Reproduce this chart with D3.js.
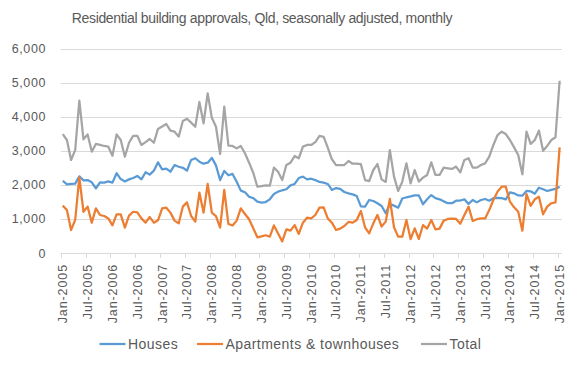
<!doctype html>
<html lang=en>
<head>
<meta charset=utf-8>
<title>Residential building approvals</title>
<script src="https://d3js.org/d3.v7.min.js"></script>
<style>
  body { margin: 0; background: #fff; }
  text { font-family: "Liberation Sans", Arial, sans-serif; fill: #595959; }
</style>
</head>
<body>
<div id="container"></div>
<script>
// monthly, Jan-2005 .. Jan-2015
var startYear = 2005, startMonth = 0;
var houses = [2120,2015,2025,2035,2250,2130,2140,2075,1900,2075,2065,2100,
  2065,2340,2170,2100,2160,2200,2260,2160,2370,2300,2415,2660,
  2455,2475,2385,2580,2530,2500,2415,2730,2780,2680,2620,2650,
  2790,2570,2140,2405,2280,2320,2090,1830,1780,1650,1610,1505,
  1480,1495,1575,1730,1800,1840,1870,1985,2025,2200,2240,2160,
  2180,2140,2085,2065,2025,1850,1905,1880,1790,1750,1720,1670,
  1370,1360,1555,1525,1460,1380,1165,1440,1390,1330,1600,1635,
  1660,1690,1690,1430,1575,1700,1610,1575,1515,1460,1460,1535,
  1540,1575,1440,1555,1485,1555,1585,1535,1610,1620,1610,1575,
  1780,1750,1690,1680,1820,1810,1740,1915,1870,1820,1850,1880,
  1945];
var apartments = [1390,1260,675,970,2220,1210,1360,890,1310,1115,1085,1015,
  810,1135,1135,745,1095,1210,1190,1015,890,1055,890,960,
  1310,1330,1185,950,870,1360,1485,1085,920,1770,1185,2025,
  1185,1085,745,1850,850,810,950,1310,1145,990,725,460,
  490,520,480,810,575,340,695,655,820,560,890,1035,
  1015,1115,1330,1340,1015,890,675,715,790,910,890,970,
  1235,755,575,870,1115,775,920,1585,755,480,480,970,
  410,725,410,820,715,970,695,715,950,1000,1010,1000,
  860,1115,1360,940,990,1015,1015,1260,1555,1800,1945,1945,
  1505,1340,1210,655,1730,1380,1575,1650,1135,1360,1460,1485,
  3100];
var total = [3490,3315,2730,3020,4470,3335,3480,2975,3200,3170,3140,3120,
  2855,3480,3315,2825,3235,3435,3440,3170,3255,3345,3235,3640,
  3710,3785,3590,3560,3415,3875,3940,3825,3705,4430,3805,4685,
  3970,3705,2905,4295,3150,3140,3070,3140,2925,2650,2355,1945,
  1965,1985,1975,2505,2385,2140,2580,2650,2845,2780,3120,3170,
  3170,3255,3435,3405,3090,2750,2580,2580,2580,2700,2620,2620,
  2605,2140,2110,2435,2610,2160,2085,3020,2240,1820,2095,2630,
  2045,2435,2095,2210,2290,2660,2290,2290,2505,2485,2465,2535,
  2365,2730,2780,2505,2505,2580,2630,2825,3170,3460,3560,3490,
  3315,3100,2875,2310,3560,3200,3315,3590,3000,3140,3315,3395,
  5055];
var yTicks = [0,1000,2000,3000,4000,5000,6000];
var monthNames = ["Jan","Feb","Mar","Apr","May","Jun","Jul","Aug","Sep","Oct","Nov","Dec"];

var series = [
  {name: "Houses", values: houses, color: "#5B9BD5"},
  {name: "Apartments & townhouses", values: apartments, color: "#ED7D31"},
  {name: "Total", values: total, color: "#A5A5A5"}
];

var w = 576, h = 366;
var svg = d3.select("#container").append("svg")
  .attr("width", w).attr("height", h);

var n = houses.length;
var x = d3.scaleLinear().domain([0, n]).range([60.7, 561.7]);
var y = d3.scaleLinear().domain([0, 6000]).range([253, 48.5]);

// gridlines
svg.append("g").selectAll("line")
  .data(yTicks)
  .enter().append("line")
  .attr("x1", x(0)).attr("x2", x(n))
  .attr("y1", function(d) { return Math.round(y(d)) + 0.5; })
  .attr("y2", function(d) { return Math.round(y(d)) + 0.5; })
  .attr("stroke", "#d9d9d9").attr("stroke-width", 1);

// y labels
svg.append("g").selectAll("text")
  .data(yTicks)
  .enter().append("text")
  .attr("x", 46).attr("y", function(d) { return y(d) + 4.5; })
  .attr("text-anchor", "end").attr("font-size", 12.5)
  .attr("letter-spacing", 0.6)
  .text(function(d) { return d3.format(",")(d); });

// x ticks every 6 months
var tickIdx = d3.range(0, n, 6);
svg.append("g").selectAll("line")
  .data(tickIdx)
  .enter().append("line")
  .attr("x1", function(d) { return Math.round(x(d)) + 0.5; })
  .attr("x2", function(d) { return Math.round(x(d)) + 0.5; })
  .attr("y1", y(0)).attr("y2", y(0) + 5)
  .attr("stroke", "#d9d9d9");

svg.append("g").selectAll("text")
  .data(tickIdx)
  .enter().append("text")
  .attr("transform", function(d) { return "translate(" + (x(d) + 6.5) + "," + 264 + ") rotate(-90)"; })
  .attr("text-anchor", "end").attr("font-size", 12.5)
  .attr("letter-spacing", 0.9)
  .text(function(d) {
    var m = startMonth + d;
    return monthNames[m % 12] + "-" + (startYear + Math.floor(m / 12));
  });

// lines
var line = d3.line()
  .x(function(d, i) { return x(i + 0.5); })
  .y(function(d) { return y(d); });

svg.append("g").selectAll("path")
  .data(series)
  .enter().append("path")
  .attr("fill", "none")
  .attr("stroke", function(d) { return d.color; })
  .attr("stroke-width", 2.25)
  .attr("stroke-linejoin", "round")
  .attr("d", function(d) { return line(d.values); });

// title
svg.append("text")
  .attr("x", 262).attr("y", 23)
  .attr("text-anchor", "middle").attr("font-size", 14)
  .attr("letter-spacing", -0.35)
  .text("Residential building approvals, Qld, seasonally adjusted, monthly");

// legend
var legendX = [99.5, 197, 421];
var lg = svg.append("g").selectAll("g")
  .data(series)
  .enter().append("g")
  .attr("transform", function(d, i) { return "translate(" + legendX[i] + ",344)"; });
lg.append("line")
  .attr("x1", 0).attr("x2", 26)
  .attr("stroke", function(d) { return d.color; })
  .attr("stroke-width", 2.25);
lg.append("text")
  .attr("x", 28.5).attr("y", 5)
  .attr("font-size", 14)
  .attr("letter-spacing", 0.45)
  .text(function(d) { return d.name; });
</script>
</body>
</html>
